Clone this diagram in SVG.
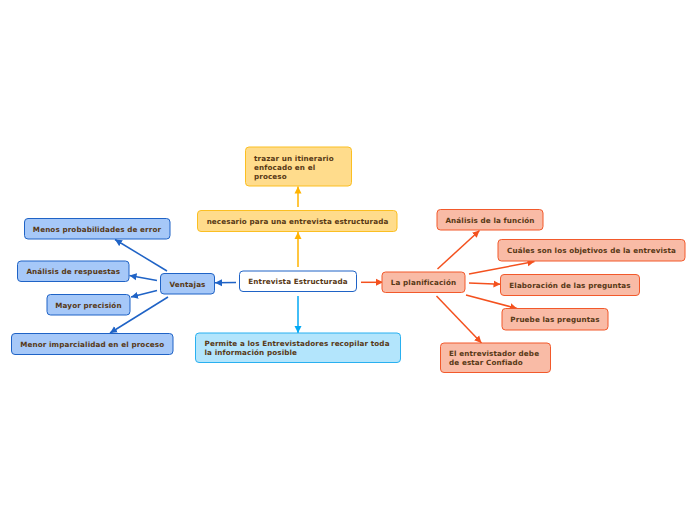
<svg xmlns="http://www.w3.org/2000/svg" width="696" height="520" viewBox="0 0 696 520">
<defs>
<style>
text{font-family:"DejaVu Sans","Verdana",sans-serif;font-size:7.2px;letter-spacing:0.12px;font-weight:bold;fill:#573815}
.c{text-anchor:middle}
.center rect{fill:#ffffff;stroke:#1f63c6;stroke-width:1}
.blue rect{fill:#a6c8f8;stroke:#1f63c6;stroke-width:1}
.red rect{fill:#f9bba6;stroke:#f2592b;stroke-width:1}
.yel rect{fill:#ffdc8c;stroke:#fbbf22;stroke-width:1}
.cyan rect{fill:#b3e5fc;stroke:#29b0f0;stroke-width:1}
.lb{stroke:#1f63c6;stroke-width:1.5;fill:none;marker-end:url(#ab)}
.lr{stroke:#f4511e;stroke-width:1.5;fill:none;marker-end:url(#ar)}
.ly{stroke:#ffb300;stroke-width:1.5;fill:none;marker-end:url(#ay)}
.lc{stroke:#03a9f4;stroke-width:1.5;fill:none;marker-end:url(#ac)}
</style>
<marker id="ab" markerUnits="userSpaceOnUse" markerWidth="8" markerHeight="8" refX="7" refY="4" orient="auto"><path d="M0,0.5 L7,4 L0,7.5 z" fill="#1f63c6"/></marker>
<marker id="ar" markerUnits="userSpaceOnUse" markerWidth="8" markerHeight="8" refX="7" refY="4" orient="auto"><path d="M0,0.5 L7,4 L0,7.5 z" fill="#f4511e"/></marker>
<marker id="ay" markerUnits="userSpaceOnUse" markerWidth="8" markerHeight="8" refX="7" refY="4" orient="auto"><path d="M0,0.5 L7,4 L0,7.5 z" fill="#ffb300"/></marker>
<marker id="ac" markerUnits="userSpaceOnUse" markerWidth="8" markerHeight="8" refX="7" refY="4" orient="auto"><path d="M0,0.5 L7,4 L0,7.5 z" fill="#03a9f4"/></marker>
</defs>
<rect width="696" height="520" fill="#ffffff"/>
<g id="connectors">
<line class="ly" x1="298" y1="267" x2="298" y2="232"/>
<line class="ly" x1="298" y1="207" x2="298" y2="186.5"/>
<line class="lc" x1="298" y1="296" x2="298" y2="333"/>
<line class="lb" x1="236" y1="282.5" x2="215" y2="282.8"/>
<line class="lb" x1="167" y1="271" x2="115" y2="239.5"/>
<line class="lb" x1="157" y1="280.5" x2="129.5" y2="275.5"/>
<line class="lb" x1="157" y1="290.5" x2="131" y2="297"/>
<line class="lb" x1="168" y1="297" x2="110" y2="333"/>
<line class="lr" x1="361" y1="282.3" x2="383" y2="282.3"/>
<line class="lr" x1="437.5" y1="269" x2="479.5" y2="230.5"/>
<line class="lr" x1="469" y1="274" x2="534.5" y2="261.5"/>
<line class="lr" x1="469" y1="283" x2="500.5" y2="284.3"/>
<line class="lr" x1="466" y1="295" x2="517" y2="308.5"/>
<line class="lr" x1="436.5" y1="296" x2="481.5" y2="343"/>
</g>
<g id="n-center" class="center"><rect x="239.5" y="271" width="117" height="20.5" rx="3.5"/><text class="c" x="298" y="284">Entrevista Estructurada</text></g>
<g id="n-necesario" class="yel"><rect x="197.5" y="210.5" width="199.5" height="21" rx="3.5"/><text class="c" x="297.5" y="223.5">necesario para una entrevista estructurada</text></g>
<g id="n-trazar" class="yel"><rect x="245.5" y="147" width="106" height="39" rx="3.5"/><text x="254" y="160.5">trazar un itinerario</text><text x="254" y="169.5">enfocado en el</text><text x="254" y="178.5">proceso</text></g>
<g id="n-permite" class="cyan"><rect x="195.5" y="333" width="205" height="29.5" rx="3.5"/><text x="204.5" y="345.5">Permite a los Entrevistadores recopilar toda</text><text x="204.5" y="354.5">la información posible</text></g>
<g id="n-ventajas" class="blue"><rect x="160.5" y="273.5" width="54" height="20.5" rx="3.5"/><text class="c" x="187.5" y="286.5">Ventajas</text></g>
<g id="n-menos" class="blue"><rect x="24.5" y="218.5" width="145.5" height="20.5" rx="3.5"/><text class="c" x="97" y="231.5">Menos probabilidades de error</text></g>
<g id="n-analisis-resp" class="blue"><rect x="17.5" y="261" width="111.5" height="20.5" rx="3.5"/><text class="c" x="73.3" y="274">Análisis de respuestas</text></g>
<g id="n-mayor" class="blue"><rect x="47" y="294.5" width="83" height="20.5" rx="3.5"/><text class="c" x="88.5" y="307.5">Mayor precisión</text></g>
<g id="n-menor" class="blue"><rect x="11.5" y="333.5" width="161.5" height="21" rx="3.5"/><text class="c" x="92.2" y="346.5">Menor imparcialidad en el proceso</text></g>
<g id="n-planificacion" class="red"><rect x="382" y="272" width="83" height="20.5" rx="3.5"/><text class="c" x="423.5" y="285">La planificación</text></g>
<g id="n-funcion" class="red"><rect x="437" y="209.5" width="106" height="20.5" rx="3.5"/><text class="c" x="490" y="222.5">Análisis de la función</text></g>
<g id="n-objetivos" class="red"><rect x="498" y="239.5" width="187" height="21.5" rx="3.5"/><text class="c" x="591.5" y="252.8">Cuáles son los objetivos de la entrevista</text></g>
<g id="n-elaboracion" class="red"><rect x="500.5" y="274.5" width="139" height="21" rx="3.5"/><text class="c" x="570" y="287.8">Elaboración de las preguntas</text></g>
<g id="n-pruebe" class="red"><rect x="502" y="308.5" width="106" height="21.5" rx="3.5"/><text class="c" x="555" y="321.8">Pruebe las preguntas</text></g>
<g id="n-confiado" class="red"><rect x="440.5" y="343" width="110" height="29.5" rx="3.5"/><text x="449" y="355.5">El entrevistador debe</text><text x="449" y="364.5">de estar Confiado</text></g>
</svg>
